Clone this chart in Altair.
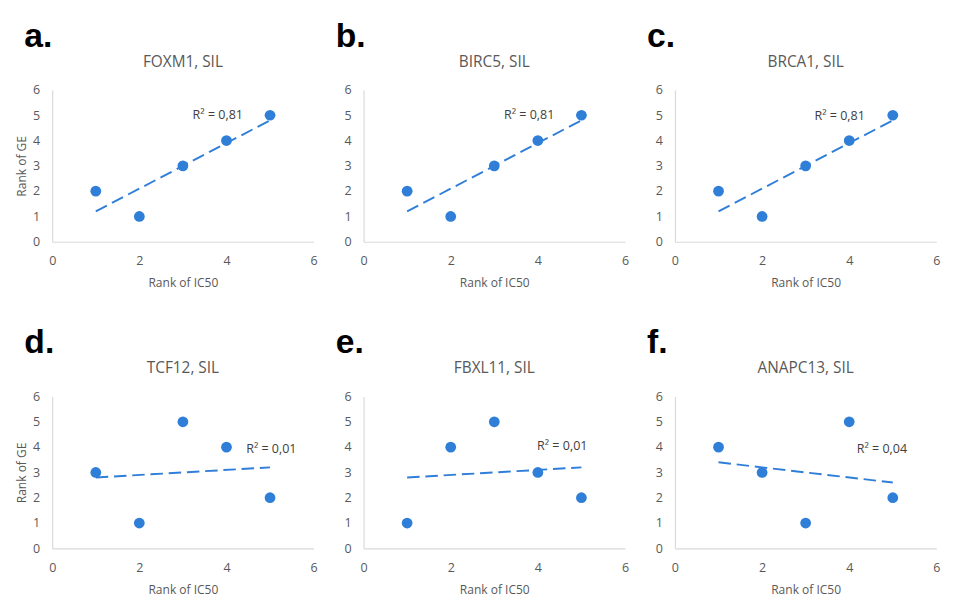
import altair as alt
import pandas as pd

letters = ["a.", "b.", "c.", "d.", "e.", "f."]
genes = ["FOXM1, SIL", "BIRC5, SIL", "BRCA1, SIL", "TCF12, SIL", "FBXL11, SIL", "ANAPC13, SIL"]
rank_ic50 = [1, 2, 3, 4, 5]
rank_ge_foxm1 = [2, 1, 3, 4, 5]
rank_ge_birc5 = [2, 1, 3, 4, 5]
rank_ge_brca1 = [2, 1, 3, 4, 5]
rank_ge_tcf12 = [3, 1, 5, 4, 2]
rank_ge_fbxl11 = [1, 4, 5, 3, 2]
rank_ge_anapc13 = [4, 3, 1, 5, 2]
r2_labels = ["R² = 0,81", "R² = 0,81", "R² = 0,81", "R² = 0,01", "R² = 0,01", "R² = 0,04"]
r2_x = [3.8, 3.8, 3.78, 5.03, 4.56, 4.75]
r2_y = [5.0, 5.0, 4.98, 3.92, 4.03, 3.92]
x_ticks = [0, 2, 4, 6]
y_ticks = [0, 1, 2, 3, 4, 5, 6]

series = [rank_ge_foxm1, rank_ge_birc5, rank_ge_brca1,
          rank_ge_tcf12, rank_ge_fbxl11, rank_ge_anapc13]

BLUE = "#2F7ED8"
FONT = "Open Sans"
W, H = 272, 158


def panel(i, ys, show_y_title):
    df = pd.DataFrame({"x": rank_ic50, "y": ys})
    base = alt.Chart(df)
    xenc = alt.X("x:Q", scale=alt.Scale(domain=[0, 6], nice=False),
                 axis=alt.Axis(values=x_ticks, title="Rank of IC50", labelOverlap=False))
    yenc = alt.Y("y:Q", scale=alt.Scale(domain=[0, 6], nice=False),
                 axis=alt.Axis(values=y_ticks, title="Rank of GE" if show_y_title else "",
                               labelOverlap=False))
    line = base.transform_regression("x", "y").mark_line(
        color=BLUE, strokeDash=[13, 6], strokeWidth=2
    ).encode(x=xenc, y=yenc)
    points = base.mark_circle(size=125, opacity=1, color=BLUE).encode(x=xenc, y=yenc)
    lab = alt.Chart(pd.DataFrame({"x": [r2_x[i]], "y": [r2_y[i]], "t": [r2_labels[i]]})).mark_text(
        fontSize=13, font=FONT, color="#404040"
    ).encode(x=xenc, y=yenc, text="t:N")
    head = alt.Chart(pd.DataFrame({"t": [letters[i]], "g": [genes[i]]}))
    letter = head.mark_text(
        fontSize=35, fontWeight="bold", font="Liberation Sans", align="left",
        baseline="alphabetic", color="black"
    ).encode(x=alt.value(-29), y=alt.value(-45), text="t:N")
    gene = head.mark_text(
        fontSize=16, font=FONT, align="center", baseline="middle", color="#595959"
    ).encode(x=alt.value(W / 2), y=alt.value(-29), text="g:N")
    return alt.layer(line, points, lab, letter, gene).properties(width=W, height=H)


row1 = alt.hconcat(*[panel(i, series[i], i == 0) for i in range(3)], spacing=19)
row2 = alt.hconcat(*[panel(i, series[i], i == 3) for i in range(3, 6)], spacing=19)

chart = alt.vconcat(row1, row2, spacing=38).properties(
    background="white",
    padding={"left": 8, "top": 0, "right": 5, "bottom": 5},
).configure_axis(
    grid=False, ticks=False, domainColor="#d9d9d9", domainWidth=1.2,
    labelColor="#595959", labelFont=FONT, labelFontSize=13, labelPadding=14,
    labelFlush=False,
    titleFont=FONT, titleFontSize=12.5, titleFontWeight="normal", titleColor="#595959",
    titlePadding=10,
).configure_axisY(titlePadding=4, labelPadding=13).configure_view(strokeWidth=0)

chart.save("out.html", embed_options={"renderer": "svg", "actions": False})
